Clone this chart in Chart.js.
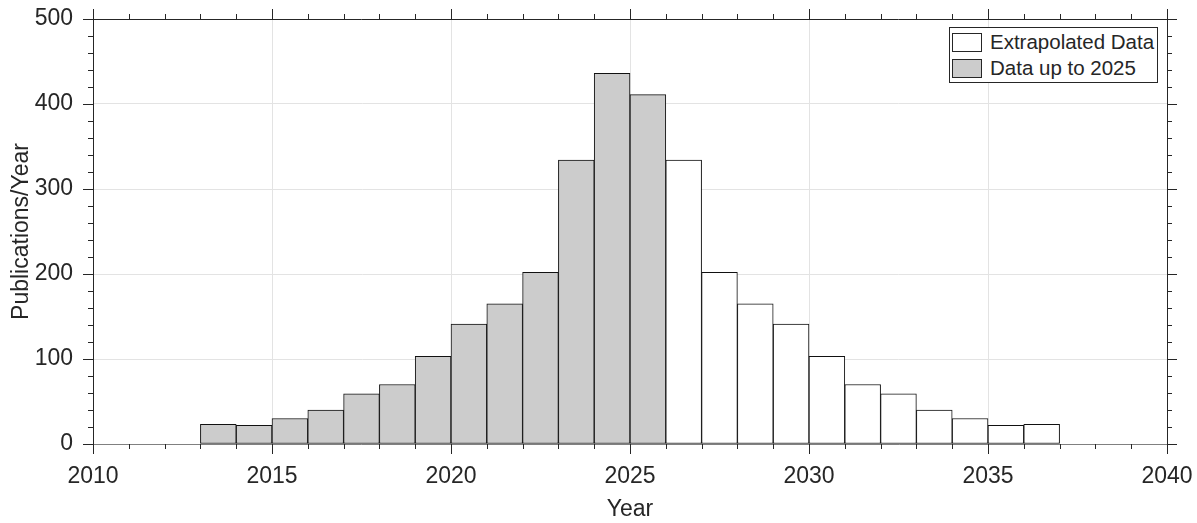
<!DOCTYPE html>
<html>
<head>
<meta charset="utf-8">
<script src="https://cdn.jsdelivr.net/npm/chart.js@4"></script>
<style>
  html, body { margin: 0; padding: 0; background: #fff; }
  #wrap { position: relative; width: 1197px; height: 523px; }
  #legend {
    position: absolute; left: 949px; top: 27px; width: 207px; height: 54px;
    border: 1px solid #262626; background: #fff;
    font-family: 'Liberation Sans', Arial, Helvetica, sans-serif; font-size: 20.5px; color: #262626;
  }
  .row { position: absolute; left: 2px; height: 20px; line-height: 20px; white-space: nowrap; }
  .sw { position: absolute; left: 0; top: 0; width: 28px; height: 17px; border: 1px solid #262626; }
  .lbl { position: absolute; left: 38px; top: -1px; }
</style>
</head>
<body>
<div id="wrap">
  <canvas id="histChart" width="1197" height="523"></canvas>
  <div id="legend">
    <div class="row" style="top:5px"><span class="sw" style="background:#fff"></span><span class="lbl">Extrapolated Data</span></div>
    <div class="row" style="top:31px"><span class="sw" style="background:#cccccc"></span><span class="lbl">Data up to 2025</span></div>
  </div>
</div>
<script>
// bins start at these years, each one year wide
var observedYears = [2013, 2014, 2015, 2016, 2017, 2018, 2019, 2020, 2021, 2022, 2023, 2024, 2025];
var observedCounts = [23, 22, 30, 40, 59, 70, 103, 141, 165, 202, 334, 436, 411];
var extrapolatedYears = [2026, 2027, 2028, 2029, 2030, 2031, 2032, 2033, 2034, 2035, 2036];
var extrapolatedCounts = [334, 202, 165, 141, 103, 70, 59, 40, 30, 22, 23];
var xTicks = [2010, 2015, 2020, 2025, 2030, 2035, 2040];
var yTicks = [0, 100, 200, 300, 400, 500];

var textColor = '#262626';
var fontFamily = "'Liberation Sans', Arial, Helvetica, sans-serif";

function toPoints(years, counts) {
    return years.map(function(y, i) { return { x: y + 0.5, y: counts[i] }; });
}

// outward ticks on all four sides, majors + minors
var frameTicks = {
    id: 'frameTicks',
    afterDraw: function(chart) {
        var c = chart.ctx, a = chart.chartArea;
        var xs = chart.scales.x, ys = chart.scales.y;
        c.save();
        c.strokeStyle = textColor;
        c.lineWidth = 1;
        c.beginPath();
        for (var v = 2010; v <= 2040; v++) {
            var px = Math.round(xs.getPixelForValue(v)) + 0.5;
            var len = (v % 5 === 0) ? 10 : 5;
            c.moveTo(px, a.bottom); c.lineTo(px, a.bottom + len);
            c.moveTo(px, a.top); c.lineTo(px, a.top - len);
        }
        for (var w = 0; w <= 500; w += 20) {
            var py = Math.round(ys.getPixelForValue(w)) + 0.5;
            var l2 = (w % 100 === 0) ? 10 : 5;
            c.moveTo(a.left, py); c.lineTo(a.left - l2, py);
            c.moveTo(a.right, py); c.lineTo(a.right + l2, py);
        }
        c.stroke();
        // top and right frame
        c.beginPath();
        c.moveTo(a.left, Math.round(a.top) + 0.5); c.lineTo(a.right, Math.round(a.top) + 0.5);
        c.moveTo(Math.round(a.right) + 0.5, a.top); c.lineTo(Math.round(a.right) + 0.5, a.bottom);
        c.stroke();
        c.restore();
    }
};

var ctx = document.getElementById('histChart').getContext('2d');
var myChart = new Chart(ctx, {
    type: 'bar',
    data: {
        datasets: [{
            label: 'Data up to 2025',
            data: toPoints(observedYears, observedCounts),
            backgroundColor: '#cccccc',
            borderColor: '#111111',
            borderWidth: 1,
            borderSkipped: false
        }, {
            label: 'Extrapolated Data',
            data: toPoints(extrapolatedYears, extrapolatedCounts),
            backgroundColor: '#ffffff',
            borderColor: '#111111',
            borderWidth: 1,
            borderSkipped: false
        }]
    },
    options: {
        responsive: false,
        animation: false,
        grouped: false,
        barPercentage: 1,
        categoryPercentage: 1,
        layout: { padding: { top: 19, right: 30, left: 0, bottom: 0 } },
        plugins: {
            legend: { display: false },
            tooltip: { enabled: false }
        },
        scales: {
            x: {
                type: 'linear',
                min: 2010,
                max: 2040,
                offset: false,
                afterFit: function(s) { s.height = 79; s.paddingLeft = 0; s.paddingRight = 0; },
                afterBuildTicks: function(s) { s.ticks = xTicks.map(function(v) { return { value: v }; }); },
                ticks: {
                    color: textColor,
                    padding: 19,
                    maxRotation: 0,
                    font: { family: fontFamily, size: 23 },
                    callback: function(v) { return String(v); }
                },
                grid: { color: '#e3e3e3', drawTicks: false, offset: false },
                border: { display: true, color: '#808080' },
                title: {
                    display: true, text: 'Year', color: textColor,
                    padding: { top: 0, bottom: 0 },
                    font: { family: fontFamily, size: 23 }
                }
            },
            y: {
                min: 0,
                max: 500,
                afterFit: function(s) { s.width = 93; s.paddingTop = 0; s.paddingBottom = 0; },
                afterBuildTicks: function(s) { s.ticks = yTicks.map(function(v) { return { value: v }; }); },
                ticks: {
                    color: textColor,
                    padding: 20,
                    font: { family: fontFamily, size: 23 }
                },
                grid: { color: '#e3e3e3', drawTicks: false },
                border: { display: true, color: textColor },
                title: {
                    display: true, text: 'Publications/Year', color: textColor,
                    padding: { top: 8, bottom: 0 },
                    font: { family: fontFamily, size: 23 }
                }
            }
        }
    },
    plugins: [frameTicks]
});
</script>
</body>
</html>
